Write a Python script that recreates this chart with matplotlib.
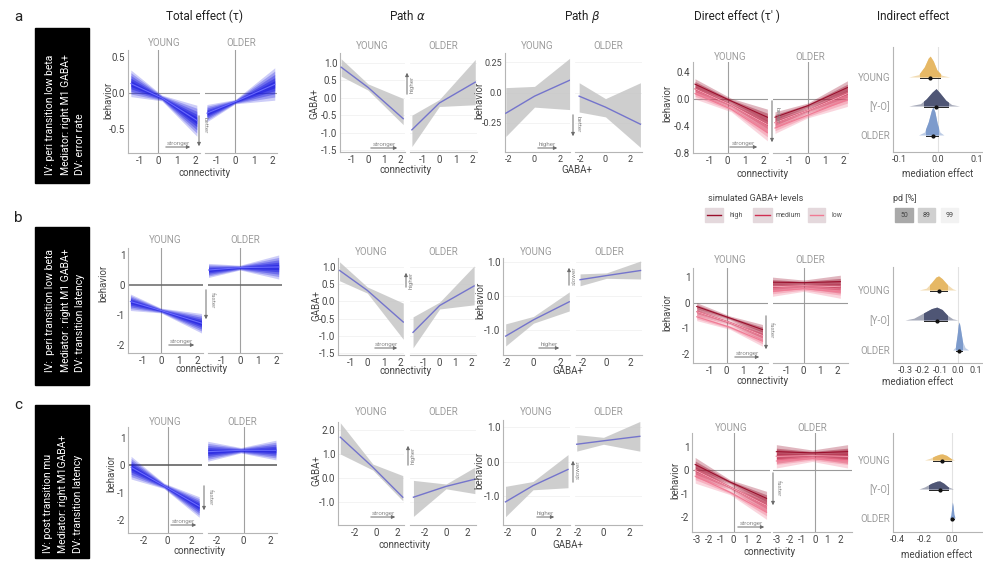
import numpy as np
import matplotlib
matplotlib.use('Agg')
import matplotlib.pyplot as plt
from matplotlib.patches import Rectangle

plt.rcParams['font.family'] = ['Roboto', 'DejaVu Sans']

# ---- values --------------------------------------------------------------
# regression panels: (x, centre, lower, upper) at left end / waist / right end
tot_a_young = [(-1.5, 0.13, -0.05, 0.32), (0.2, -0.07, -0.11, -0.03), (2.1, -0.38, -0.6, -0.17)]
tot_a_older = [(-1.55, -0.28, -0.4, -0.16), (0.0, -0.12, -0.15, -0.09), (2.15, 0.12, -0.1, 0.35)]
tot_b_young = [(-1.7, -0.55, -0.85, -0.3), (0.0, -0.85, -0.93, -0.77), (2.25, -1.27, -1.6, -0.95)]
tot_b_older = [(-1.75, 0.5, 0.25, 0.72), (0.0, 0.58, 0.5, 0.66), (2.15, 0.6, 0.2, 1.0)]
tot_c_young = [(-3.1, -0.07, -0.5, 0.33), (-0.3, -0.75, -0.85, -0.65), (2.7, -1.5, -1.9, -1.15)]
tot_c_older = [(-2.7, 0.5, 0.15, 0.88), (-0.2, 0.55, 0.45, 0.65), (2.45, 0.55, 0.2, 0.92)]

alpha_a_young = [(-1.68, 0.88, 0.62, 1.12), (0.0, 0.3, 0.22, 0.4), (2.2, -0.6, -0.77, -0.02)]
alpha_a_older = [(-1.68, -0.92, -1.4, -0.5), (0.0, -0.15, -0.25, -0.05), (2.2, 0.45, -0.2, 1.1)]
alpha_b_young = [(-1.7, 0.9, 0.6, 1.15), (0.0, 0.32, 0.24, 0.42), (2.2, -0.6, -1.1, -0.05)]
alpha_b_older = [(-1.7, -0.9, -1.35, -0.45), (0.0, -0.12, -0.22, -0.02), (2.2, 0.45, -0.1, 1.03)]
alpha_c_young = [(-3.4, 1.7, 1.0, 2.3), (-0.3, 0.45, 0.33, 0.58), (2.55, -0.8, -0.95, 0.1)]
alpha_c_older = [(-3.1, -0.8, -1.6, -0.1), (0.0, -0.35, -0.45, -0.25), (2.75, -0.05, -0.65, 0.45)]

beta_a_young = [(-2.25, -0.17, -0.36, 0.04), (0.0, -0.03, -0.12, 0.05), (2.75, 0.1, -0.14, 0.28)]
beta_a_older = [(-2.15, -0.03, -0.16, 0.08), (0.0, -0.12, -0.2, -0.05), (2.85, -0.26, -0.45, 0.08)]
beta_b_young = [(-2.1, -1.18, -1.47, -0.82), (0.0, -0.7, -0.8, -0.6), (2.7, -0.17, -0.44, 0.12)]
beta_b_older = [(-2.25, 0.48, 0.3, 0.65), (0.0, 0.6, 0.52, 0.68), (2.9, 0.75, 0.5, 1.03)]
beta_c_young = [(-2.2, -1.17, -1.6, -0.72), (0.0, -0.7, -0.82, -0.58), (2.8, -0.23, -0.76, 0.2)]
beta_c_older = [(-2.1, 0.5, 0.3, 0.78), (0.0, 0.6, 0.5, 0.7), (2.85, 0.73, 0.3, 1.16)]

# direct effect: (x, high, medium, low, half width) for the simulated GABA+ levels
dir_a_young = [(-1.85, 0.22, 0.15, 0.08, 0.08), (0.2, -0.03, -0.09, -0.15, 0.04), (2.25, -0.27, -0.38, -0.5, 0.12)]
dir_a_older = [(-1.85, -0.27, -0.35, -0.43, 0.08), (0.0, -0.1, -0.17, -0.24, 0.04), (2.25, 0.17, 0.08, -0.01, 0.1)]
dir_b_young = [(-1.8, -0.15, -0.35, -0.55, 0.15), (0.2, -0.6, -0.78, -0.96, 0.08), (2.15, -1.05, -1.28, -1.5, 0.2)]
dir_b_older = [(-1.95, 0.8, 0.62, 0.44, 0.2), (0.0, 0.78, 0.66, 0.54, 0.1), (2.2, 0.82, 0.62, 0.42, 0.25)]
dir_c_young = [(-3.15, 0.25, 0.0, -0.25, 0.3), (-0.3, -0.5, -0.72, -0.94, 0.1), (2.7, -1.2, -1.5, -1.8, 0.3)]
dir_c_older = [(-3.05, 0.8, 0.6, 0.4, 0.3), (-0.2, 0.75, 0.63, 0.5, 0.12), (2.6, 0.8, 0.6, 0.4, 0.3)]

# indirect effect posteriors: (x, height) outlines, order YOUNG, [Y-O], OLDER
ind_a = [
    [(-0.075, 0), (-0.05, 0.08), (-0.035, 0.35), (-0.025, 0.65), (-0.02, 0.72), (-0.012, 0.55), (-0.003, 0.25), (0.01, 0.06), (0.03, 0)],
    [(-0.075, 0), (-0.045, 0.08), (-0.03, 0.25), (-0.015, 0.48), (-0.005, 0.6), (0.005, 0.45), (0.02, 0.2), (0.035, 0.05), (0.055, 0)],
    [(-0.05, 0), (-0.035, 0.1), (-0.025, 0.45), (-0.017, 0.85), (-0.013, 0.97), (-0.008, 0.8), (-0.002, 0.4), (0.005, 0.1), (0.015, 0)],
]
ind_b = [
    [(-0.22, 0), (-0.18, 0.06), (-0.15, 0.25), (-0.125, 0.43), (-0.11, 0.47), (-0.09, 0.38), (-0.06, 0.18), (-0.03, 0.04), (-0.01, 0)],
    [(-0.3, 0), (-0.25, 0.06), (-0.2, 0.22), (-0.15, 0.38), (-0.12, 0.43), (-0.09, 0.35), (-0.06, 0.16), (-0.03, 0.04), (0.0, 0)],
    [(-0.03, 0), (-0.015, 0.1), (-0.005, 0.5), (0.002, 0.85), (0.007, 0.93), (0.014, 0.7), (0.025, 0.3), (0.04, 0.08), (0.06, 0)],
]
ind_c = [
    [(-0.2, 0), (-0.16, 0.06), (-0.12, 0.15), (-0.09, 0.2), (-0.07, 0.21), (-0.04, 0.16), (-0.01, 0.06), (0.02, 0)],
    [(-0.24, 0), (-0.2, 0.07), (-0.15, 0.2), (-0.11, 0.27), (-0.09, 0.28), (-0.06, 0.2), (-0.03, 0.08), (0.01, 0)],
    [(-0.02, 0), (-0.008, 0.1), (-0.002, 0.35), (0.003, 0.55), (0.008, 0.4), (0.014, 0.12), (0.025, 0)],
]
# (median, lower, upper)
ind_a_ci = [(-0.02, -0.045, 0.005), (-0.005, -0.035, 0.025), (-0.013, -0.03, 0.0)]
ind_b_ci = [(-0.11, -0.16, -0.06), (-0.12, -0.19, -0.06), (0.007, -0.01, 0.025)]
ind_c_ci = [(-0.07, -0.14, -0.01), (-0.09, -0.17, -0.03), (0.003, -0.006, 0.012)]

ind_cats = ['YOUNG', '[Y-O]', 'OLDER']
titles = ['Total effect (τ)', 'Path $\\alpha$', 'Path $\\beta$', "Direct effect (τ' )", 'Indirect effect']
box_texts = [
    ['IV: peri transition low beta', 'Mediator: right M1 GABA+', 'DV: error rate'],
    ['IV:  peri transition low beta', 'Mediator : right M1 GABA+', 'DV: transition latency'],
    ['IV: post transition mu', 'Mediator: right M1GABA+', 'DV: transition latency'],
]

# ---- figure ------------------------------------------------------------------
W, H = 983, 561
fig = plt.figure(figsize=(W / 100, H / 100), dpi=100)
ov = fig.add_axes([0, 0, 1, 1], zorder=10)
ov.set_xlim(0, W)
ov.set_ylim(H, 0)
ov.axis('off')

SPINE = '#b5b5b5'
TXT = '#444444'
STRIP = '#9c9c9c'
IND_COLORS = ['#e6b865', '#4f5675', '#7d9bcc']
LEVEL_COLORS = [('#f07a94', 3), ('#d02e52', 2), ('#9a0f2c', 1)]


def cal(c, p):
    p0, v0, p1, v1 = c
    return v0 + (p - p0) * (v1 - v0) / (p1 - p0)


def facet(box, xcal, ycal, xt, xl, yt=None, yl=None, gridy=None, fs=7):
    x0, y0, x1, y1 = box
    ax = fig.add_axes([x0 / W, 1 - y1 / H, (x1 - x0) / W, (y1 - y0) / H])
    ax.set_xlim(cal(xcal, x0), cal(xcal, x1))
    ax.set_ylim(cal(ycal, y1), cal(ycal, y0))
    ax.set_facecolor('none')
    for s in ['top', 'right']:
        ax.spines[s].set_visible(False)
    for s in ['left', 'bottom']:
        ax.spines[s].set_color(SPINE)
        ax.spines[s].set_linewidth(0.8)
    ax.set_xticks(xt, xl)
    if yt is None:
        ax.spines['left'].set_visible(False)
        ax.set_yticks([])
    else:
        ax.set_yticks(yt, yl)
    ax.tick_params(length=0, labelsize=fs, colors=TXT, pad=2)
    if gridy is not None:
        for g in gridy:
            ax.axhline(g, color='#f1f1f1', lw=0.6, zorder=0)
    return ax


def cols(pts):
    return [np.array([p[i] for p in pts]) for i in range(len(pts[0]))]


def blue_bundle(ax, pts):
    xs, c, lo, hi = cols(pts)
    for f, a in zip([1.0, 0.8, 0.6, 0.4, 0.22], [0.22, 0.28, 0.35, 0.45, 0.55]):
        ax.fill_between(xs, c - f * (c - lo), c + f * (hi - c), color='#1c1ce0', alpha=a, lw=0, zorder=2)
    ax.plot(xs, c, color='#6a6aff', lw=0.8, zorder=3)


def gray_band(ax, pts):
    xs, c, lo, hi = cols(pts)
    ax.fill_between(xs, lo, hi, color='#c6c6c6', alpha=0.85, lw=0, zorder=2)
    ax.plot(xs, c, color='#7474cc', lw=1.0, zorder=3)


def red_bundle(ax, pts):
    arr = cols(pts)
    xs, hw = arr[0], arr[4]
    for col, i in LEVEL_COLORS:
        lev = arr[i]
        for f, a in [(1.0, 0.3), (0.5, 0.4)]:
            ax.fill_between(xs, lev - f * hw, lev + f * hw, color=col, alpha=a, lw=0, zorder=2)
        ax.plot(xs, lev, color=col, lw=0.8, zorder=3)
    ax.plot(xs, arr[2], color='#f6b3c1', lw=0.6, zorder=4)


def panel(yb, ob, xcal_y, xcal_o, ycal, xt, yt, yl, strip_y, draw, d_young, d_older,
          ref=None, grid=False, fs=7):
    xl = [str(t) for t in xt]
    gy = yt if grid else None
    axy = facet(yb, xcal_y, ycal, xt, xl, yt, yl, gy, fs)
    axo = facet(ob, xcal_o, ycal, xt, xl, None, None, gy, fs)
    for ax, d, box, name in [(axy, d_young, yb, 'YOUNG'), (axo, d_older, ob, 'OLDER')]:
        if ref is not None:
            ax.axvline(0, color='#a0a0a0', lw=0.8, zorder=1)
            ax.axhline(0, color=ref[0], lw=ref[1], zorder=1)
        draw(ax, d)
        ov.text((box[0] + box[2]) / 2, strip_y, name, ha='center', va='center', color=STRIP, fontsize=7)
    return axy, axo


def indirect(box, xcal, ycal, xt, xl, dens, cis):
    ax = facet(box, xcal, ycal, xt, xl, [2, 1, 0], ind_cats, fs=6.5)
    ax.tick_params(axis='y', colors=STRIP, labelsize=7)
    ax.axvline(0, color='#e2e2e2', lw=0.8, zorder=1)
    for base, pts, ci, col in zip([2, 1, 0], dens, cis, IND_COLORS):
        xs, hs = cols(pts)
        ax.fill_between(xs, base, base + hs, color=col, alpha=0.5, lw=0, zorder=2)
        inner = ax.fill_between(xs, base, base + hs, color=col, alpha=1.0, lw=0, zorder=3)
        inner.set_clip_path(Rectangle((ci[1], base), ci[2] - ci[1], 2, transform=ax.transData))
        ax.plot([ci[1], ci[2]], [base - 0.03] * 2, color='#222222', lw=0.7, zorder=4)
        ax.plot(ci[0], base - 0.03, 'o', color='#111111', ms=2, zorder=5)
    return ax


def arrow(x0, y0, x1, y1, label, lx, ly, rot=0):
    ov.annotate('', xy=(x1, y1), xytext=(x0, y0),
                arrowprops=dict(arrowstyle='-|>', color='#6a6a6a', lw=0.7, mutation_scale=5))
    ov.text(lx, ly, label, ha='center', va='center', rotation=rot, color='#8a8a8a', fontsize=4.5)


def axlabel(x, y, s, rot=0):
    ov.text(x, y, s, ha='center', va='center', rotation=rot, color=TXT, fontsize=7)


# ---- titles, row labels, description boxes --------------------------------------
for x, t in zip([205, 407, 582, 737, 913], titles):
    ov.text(x, 16, t, ha='center', va='center', fontsize=8.5, color='#222222')

for lab, ly, (by0, by1), lines_x, tb in [('a', 17, (28, 183), (50, 66, 80), 175),
                                        ('b', 218, (227, 385), (50, 66, 80), 372),
                                        ('c', 405, (405, 558), (48, 63, 78), 553)]:
    ov.text(18, ly, lab, ha='center', va='center', fontsize=11, color='#222222')
    ov.add_patch(Rectangle((35, by0), 54, by1 - by0, color='black', zorder=1))
    txt = box_texts['abc'.index(lab)]
    for lx, line in zip(lines_x, txt):
        ov.text(lx, tb, line, rotation=90, ha='center', va='bottom', color='white', fontsize=7.5)

# ---- row a ---------------------------------------------------------------------------
panel((128, 50, 200, 153), (205, 50, 277, 153), (140, -1, 195, 2), (217, -1, 272, 2),
      (57, 0.5, 129, -0.5), [-1, 0, 1, 2], [0.5, 0, -0.5], ['0.5', '0.0', '-0.5'], 43,
      blue_bundle, tot_a_young, tot_a_older, ref=('#9a9a9a', 0.8))
panel((340, 53, 405, 152), (410, 53, 477, 152), (352, -1, 400, 2), (423, -1, 472, 2),
      (63, 1.0, 150, -1.5), [-1, 0, 1, 2], [1.0, 0.5, 0, -0.5, -1.0, -1.5],
      ['1.0', '0.5', '0.0', '-0.5', '-1.0', '-1.5'], 46, gray_band, alpha_a_young, alpha_a_older, grid=True)
panel((505, 53, 570, 152), (575, 53, 642, 152), (509, -2, 560, 2), (581, -2, 630, 2),
      (62, 0.25, 123, -0.25), [-2, 0, 2], [0.25, 0, -0.25], ['0.25', '0.0', '-0.25'], 46,
      gray_band, beta_a_young, beta_a_older, grid=True, fs=6.5)
panel((693, 62, 768, 153), (773, 62, 848, 153), (710, -1, 763, 2), (790, -1, 843, 2),
      (72, 0.4, 153, -0.8), [-1, 0, 1, 2], [0.4, 0, -0.4, -0.8], ['0.4', '0.0', '-0.4', '-0.8'], 57,
      red_bundle, dir_a_young, dir_a_older, ref=('#9a9a9a', 0.8))
indirect((893, 47, 983, 152), (899, -0.1, 938, 0.0), (77, 2, 135, 0), [-0.1, 0, 0.1],
         ['-0.1', '0.0', '0.1'], ind_a, ind_a_ci)

arrow(163, 147, 193, 147, 'stronger', 178, 143)
arrow(199, 113, 199, 149, 'better', 205, 125, -90)
arrow(407, 97, 407, 70, 'higher', 412, 84, 90)
arrow(368, 148, 400, 148, 'stronger', 384, 144)
arrow(535, 148, 560, 148, 'higher', 547, 144)
arrow(573, 112, 573, 139, 'better', 578, 124, -90)
arrow(727, 147, 760, 147, 'stronger', 743, 143)
arrow(772, 98, 772, 145, 'better', 777, 115, -90)

axlabel(205, 173, 'connectivity')
axlabel(108, 100, 'behavior', 90)
axlabel(406, 170, 'connectivity')
axlabel(314, 103, 'GABA+', 90)
axlabel(577, 170, 'GABA+')
axlabel(479, 100, 'behavior', 90)
axlabel(763, 174, 'connectivity')
axlabel(667, 103, 'behavior', 90)
axlabel(938, 174, 'mediation effect')

# ---- legends ---------------------------------------------------------------------------
ov.text(708, 198, 'simulated GABA+ levels', fontsize=6.5, color=TXT, va='center')
for (x0, x1, lx, label), (col, _) in zip([(705, 723, 729, 'high'), (753, 772, 776, 'medium'),
                                          (808, 825, 832, 'low')], LEVEL_COLORS[::-1]):
    ov.add_patch(Rectangle((x0, 208), x1 - x0, 14, color='#e4d8dc', zorder=1))
    ov.plot([x0 + 2, x1 - 2], [215, 215], color=col, lw=1.0)
    ov.text(lx, 215, label, fontsize=5, color='#555555', va='center')
ov.text(893, 198, 'pd [%]', fontsize=6.5, color=TXT, va='center')
for (x0, x1, label), col in zip([(895, 913, '50'), (918, 935, '89'), (941, 958, '99')],
                                ['#a9a9a9', '#d0d0d0', '#f2f2f2']):
    ov.add_patch(Rectangle((x0, 208), x1 - x0, 14, color=col, zorder=1))
    ov.text((x0 + x1) / 2, 215, label, fontsize=5, color='#444444', ha='center', va='center')

# ---- row b ---------------------------------------------------------------------------
panel((128, 248, 203, 353), (208, 248, 282, 353), (143, -1, 197, 2), (222, -1, 276, 2),
      (255, 1, 345, -2), [-1, 0, 1, 2], [1, 0, -1, -2], ['1', '0', '-1', '-2'], 240,
      blue_bundle, tot_b_young, tot_b_older, ref=('#666666', 1.1))
panel((338, 258, 404, 355), (410, 258, 476, 355), (351, -1, 400, 2), (424, -1, 471, 2),
      (267, 1.0, 353, -1.5), [-1, 0, 1, 2], [1.0, 0.5, 0, -0.5, -1.0, -1.5],
      ['1.0', '0.5', '0.0', '-0.5', '-1.0', '-1.5'], 252, gray_band, alpha_b_young, alpha_b_older, grid=True)
panel((503, 258, 570, 355), (576, 258, 642, 355), (507, -2, 560, 2), (583, -2, 630, 2),
      (262, 1.0, 330, -1.0), [-2, 0, 2], [1.0, 0, -1.0], ['1.0', '0.0', '-1.0'], 252,
      gray_band, beta_b_young, beta_b_older, grid=True)
panel((693, 268, 768, 363), (773, 268, 848, 363), (710, -1, 760, 2), (787, -1, 837, 2),
      (277, 1, 354, -2), [-1, 0, 1, 2], [1, 0, -1, -2], ['1', '0', '-1', '-2'], 260,
      red_bundle, dir_b_young, dir_b_older, ref=('#9a9a9a', 0.8))
indirect((893, 267, 983, 363), (905, -0.3, 958, 0.0), (290, 2, 350, 0), [-0.3, -0.2, -0.1, 0, 0.1],
         ['-0.3', '-0.2', '-0.1', '0.0', '0.1'], ind_b, ind_b_ci)

arrow(166, 345, 197, 345, 'stronger', 181, 341)
arrow(206, 287, 206, 322, 'faster', 212, 300, -90)
arrow(406, 290, 406, 270, 'higher', 411, 280, 90)
arrow(372, 348, 400, 348, 'stronger', 386, 344)
arrow(569, 288, 569, 265, 'slower', 574, 276, 90)
arrow(536, 348, 562, 348, 'higher', 549, 344)
arrow(766, 313, 766, 352, 'faster', 771, 330, -90)
arrow(732, 357, 762, 357, 'stronger', 747, 353)

axlabel(202, 369, 'connectivity')
axlabel(103, 283, 'behavior', 90)
axlabel(406, 371, 'connectivity')
axlabel(316, 305, 'GABA+', 90)
axlabel(568, 371, 'GABA+')
axlabel(480, 300, 'behavior', 90)
axlabel(763, 381, 'connectivity')
axlabel(667, 312, 'behavior', 90)
axlabel(918, 382, 'mediation effect')

# ---- row c ---------------------------------------------------------------------------
panel((128, 427, 202, 533), (208, 427, 277, 533), (144, -2, 191, 2), (217, -2, 270, 2),
      (438, 1, 520, -2), [-2, 0, 2], [1, 0, -1, -2], ['1', '0', '-1', '-2'], 422,
      blue_bundle, tot_c_young, tot_c_older, ref=('#555555', 1.1))
panel((338, 422, 404, 525), (410, 422, 476, 525), (355, -2, 397, 2), (425, -2, 467, 2),
      (430, 2.0, 502, -1.0), [-2, 0, 2], [2.0, 1.0, 0, -1.0], ['2.0', '1.0', '0.0', '-1.0'], 412,
      gray_band, alpha_c_young, alpha_c_older, grid=True)
panel((503, 420, 570, 525), (575, 420, 642, 525), (508, -2, 558, 2), (578, -2, 629, 2),
      (427, 1.0, 496, -1.0), [-2, 0, 2], [1.0, 0, -1.0], ['1.0', '0.0', '-1.0'], 412,
      gray_band, beta_c_young, beta_c_older, grid=True)
panel((692, 433, 770, 532), (773, 433, 852, 532), (697, -3, 758, 2), (777, -3, 840, 2),
      (447, 1, 517, -2), [-3, -2, -1, 0, 1, 2], [1, 0, -1, -2], ['1', '0', '-1', '-2'], 428,
      red_bundle, dir_c_young, dir_c_older, ref=('#9a9a9a', 0.8))
indirect((893, 433, 983, 532), (897, -0.4, 952, 0.0), (460, 2, 518, 0), [-0.4, -0.2, 0],
         ['-0.4', '-0.2', '0.0'], ind_c, ind_c_ci)

arrow(204, 483, 204, 513, 'faster', 210, 497, -90)
arrow(168, 525, 199, 525, 'stronger', 183, 521)
arrow(408, 468, 408, 443, 'higher', 413, 455, 90)
arrow(368, 517, 398, 517, 'stronger', 383, 513)
arrow(573, 485, 573, 458, 'slower', 578, 470, 90)
arrow(534, 517, 557, 517, 'higher', 545, 513)
arrow(773, 470, 773, 508, 'faster', 778, 488, -90)
arrow(735, 527, 767, 527, 'stronger', 751, 523)

axlabel(200, 551, 'connectivity')
axlabel(111, 473, 'behavior', 90)
axlabel(405, 545, 'connectivity')
axlabel(316, 470, 'GABA+', 90)
axlabel(568, 545, 'GABA+')
axlabel(479, 470, 'behavior', 90)
axlabel(770, 552, 'connectivity')
axlabel(675, 480, 'behavior', 90)
axlabel(937, 555, 'mediation effect')

fig.savefig('out.png', dpi=100, facecolor='white')
